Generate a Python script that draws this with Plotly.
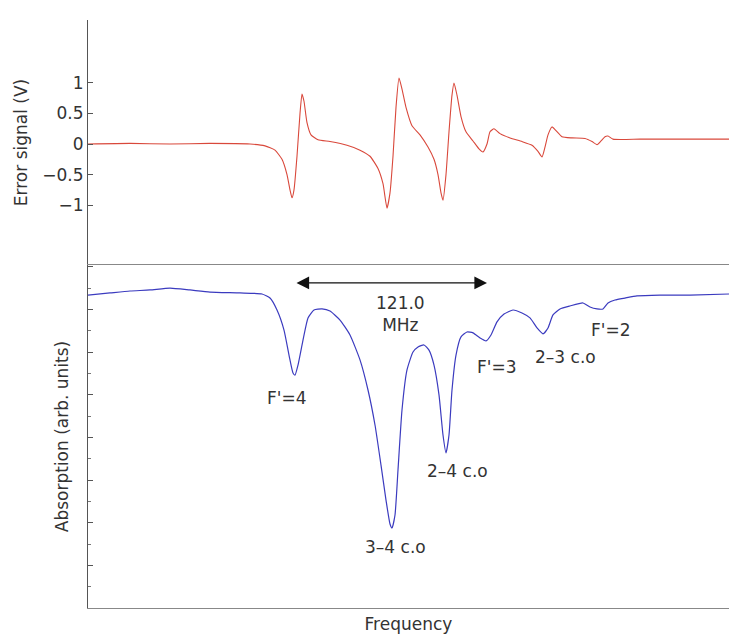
import plotly.graph_objects as go

# ---------------- data ----------------
# Frequency axis in arbitrary units (0 .. 641)
err_freq = [0, 42, 82, 122, 162, 177, 187, 194, 199, 202, 204, 206, 209, 212, 214, 216, 219,
            223, 230, 242, 259, 272, 282, 290, 295, 299, 302, 305, 308, 311, 314, 318, 324,
            332, 340, 346, 350, 353, 355, 358, 361, 364, 366, 369, 373, 378, 385, 391, 395,
            399, 402, 406, 412, 422, 434, 444, 450, 454, 457, 460, 464, 468, 474, 484, 497,
            504, 509, 513, 517, 520, 525, 552, 592, 641]
err_signal = [0.0, 0.01, 0.0, 0.01, 0.0, -0.03, -0.1, -0.25, -0.5, -0.75, -0.88, -0.75, -0.2,
              0.5, 0.82, 0.7, 0.35, 0.15, 0.07, 0.04, -0.02, -0.1, -0.2, -0.4, -0.65, -1.05,
              -0.8, -0.2, 0.6, 1.08, 0.9, 0.6, 0.3, 0.15, -0.05, -0.25, -0.5, -0.8, -0.92,
              -0.5, 0.2, 0.8, 1.0, 0.8, 0.45, 0.2, 0.05, -0.08, -0.13, 0.0, 0.2, 0.25, 0.17,
              0.1, 0.04, -0.02, -0.12, -0.21, -0.05, 0.15, 0.28, 0.22, 0.12, 0.1, 0.09, 0.04,
              -0.01, 0.05, 0.12, 0.13, 0.08, 0.08, 0.08, 0.08]

abs_freq = [0, 22, 42, 62, 82, 102, 122, 152, 174, 182, 189, 196, 201, 205, 207, 210, 215, 220,
            226, 234, 242, 252, 262, 272, 280, 287, 293, 298, 302, 304, 307, 310, 314, 319,
            325, 330, 336, 341, 346, 351, 355, 358, 361, 364, 368, 373, 379, 385, 392, 398,
            403, 409, 416, 425, 434, 442, 449, 455, 460, 465, 472, 482, 495, 502, 509, 515,
            520, 527, 537, 549, 572, 602, 641]
absorption = [14.67, 14.77, 14.86, 14.91, 15.0, 14.91, 14.81, 14.77, 14.72, 14.53, 13.97, 13.03,
              11.86, 11.02, 10.92, 11.39, 12.56, 13.6, 13.97, 14.02, 13.92, 13.5, 12.8, 11.63,
              10.22, 8.58, 6.7, 5.06, 3.94, 3.75, 4.36, 6.47, 9.28, 11.16, 12.0, 12.24, 12.33,
              12.09, 11.39, 9.99, 8.11, 7.27, 8.11, 10.22, 11.86, 12.71, 12.94, 12.9, 12.66,
              12.52, 12.8, 13.41, 13.78, 13.97, 13.83, 13.6, 13.13, 12.85, 13.13, 13.74, 14.02,
              14.16, 14.3, 14.11, 14.02, 14.02, 14.3, 14.44, 14.53, 14.63, 14.67, 14.67, 14.72]

err_ticks = [-1, -0.5, 0, 0.5, 1]
err_tick_text = ["\u22121", "\u22120.5", "0", "0.5", "1"]

peak_labels = ["F'=4", "3\u20134 c.o", "2\u20134 c.o", "F'=3", "2\u20133 c.o", "F'=2"]
peak_label_pos = [(199, 9.85), (307, 2.86), (369, 6.42), (409, 11.3), (477, 11.77), (523, 13.03)]
span_text = "121.0<br>MHz"
span_text_pos = (312, 13.78)
span_ends = (207, 399)
span_level = 15.24

# ---------------- figure ----------------
FONT = "DejaVu Sans"
TXT = "#333333"

fig = go.Figure()
fig.add_trace(go.Scatter(x=err_freq, y=err_signal, mode="lines",
                         line=dict(color="#d9483b", width=1.1, shape="spline", smoothing=0.5),
                         xaxis="x", yaxis="y", showlegend=False, hoverinfo="skip"))
fig.add_trace(go.Scatter(x=abs_freq, y=absorption, mode="lines",
                         line=dict(color="#3b3bbf", width=1.2, shape="spline", smoothing=0.5),
                         xaxis="x2", yaxis="y2", showlegend=False, hoverinfo="skip"))

split = (608 - 265) / 588.0

annotations = []
for txt, (xv, yv) in zip(peak_labels, peak_label_pos):
    annotations.append(dict(x=xv, y=yv, xref="x2", yref="y2", text=txt, showarrow=False,
                            font=dict(family=FONT, size=17, color=TXT),
                            xanchor="center", yanchor="middle"))
annotations.append(dict(x=span_text_pos[0], y=span_text_pos[1], xref="x2", yref="y2",
                        text=span_text, showarrow=False,
                        font=dict(family=FONT, size=17, color=TXT),
                        xanchor="center", yanchor="middle"))
annotations.append(dict(x=span_ends[1], y=span_level, ax=span_ends[0], ay=span_level,
                        xref="x2", yref="y2", axref="x2", ayref="y2", text="",
                        showarrow=True, arrowside="end+start", arrowhead=2,
                        arrowsize=1.8, arrowwidth=1.4, arrowcolor="#111111"))

fig.update_layout(
    width=729, height=638,
    margin=dict(l=88, r=0, t=20, b=30),
    paper_bgcolor="white", plot_bgcolor="white",
    template="none",
    font=dict(family=FONT, size=17, color=TXT),
    xaxis=dict(domain=[0, 1], anchor="y", range=[0, 641], visible=False),
    yaxis=dict(domain=[split, 1], anchor="x", range=[-1.98, 2.03],
               showline=True, linecolor="#555555", linewidth=1,
               ticks="inside", ticklen=5, tickcolor="#555555",
               tickvals=err_ticks, ticktext=err_tick_text, showgrid=False, zeroline=False,
               tickfont=dict(family=FONT, size=17, color=TXT),
               title=dict(text="Error signal (V)", standoff=10,
                          font=dict(family=FONT, size=17, color=TXT))),
    xaxis2=dict(domain=[0, 1], anchor="y2", range=[0, 641],
                showline=True, mirror=True, linecolor="#888888", linewidth=1,
                ticks="", showticklabels=False, showgrid=False, zeroline=False,
                title=dict(text="Frequency", standoff=10,
                           font=dict(family=FONT, size=17, color=TXT))),
    yaxis2=dict(domain=[0, split], anchor="x2", range=[0, 16.08],
                showline=True, linecolor="#555555", linewidth=1,
                ticks="inside", ticklen=5, tickcolor="#555555",
                tick0=0, dtick=2, showticklabels=False, showgrid=False, zeroline=False,
                minor=dict(ticks="inside", ticklen=3, tickcolor="#777777", dtick=1, showgrid=False),
                title=dict(text="Absorption (arb. units)", standoff=14,
                           font=dict(family=FONT, size=17, color=TXT))),
    annotations=annotations,
)

fig.write_html("out.html")
